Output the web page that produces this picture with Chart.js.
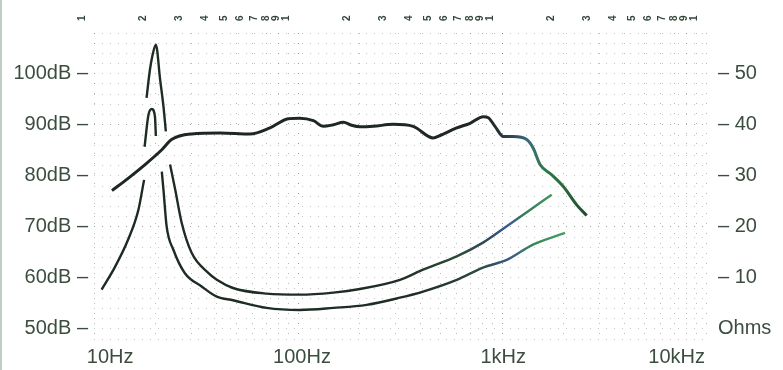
<!DOCTYPE html>
<html>
<head>
<meta charset="utf-8">
<script src="https://cdn.jsdelivr.net/npm/chart.js@4"></script>
<style>
  html, body { margin: 0; padding: 0; background: #ffffff; }
  #wrap { position: relative; width: 783px; height: 370px; }
  #edge { position: absolute; left: 0; top: 0; width: 2px; height: 370px; background: #c3ccc3; }
</style>
</head>
<body>
<div id="wrap">
  <canvas id="c" width="783" height="370"></canvas>
  <div id="edge"></div>
</div>
<script>
// ---- Data ----
// Sound pressure level (dB) vs frequency (Hz)
const respFreq = [12.25, 14.7, 17.8, 21.5, 24.0, 30.1, 41.5, 58.2, 72.9, 89.6, 102, 119, 133, 149, 167, 183, 201, 234, 293, 367, 460, 497, 600, 697, 810, 857, 924, 1015, 1136, 1322, 1423, 1536, 1752, 1998, 2323, 2602];
const respDb   = [77.1, 79.5, 82.2, 85.1, 87.1, 88.2, 88.4, 88.2, 89.4, 91.2, 91.3, 90.8, 89.7, 90.0, 90.5, 89.9, 89.6, 89.7, 90.1, 89.7, 87.4, 87.9, 89.4, 90.3, 91.6, 91.4, 89.7, 87.7, 87.7, 87.1, 85.4, 82.2, 80.2, 77.9, 74.3, 72.2];

// Impedance curve with the tall resonance peak (Ohms)
const impHiFreq = [18.1, 18.8, 19.3, 20.1, 21.1, 21.9, 22.5, 23.0, 23.6, 25.0, 26.9, 30.1, 36.2, 40.0, 48.0, 70.2, 102, 149, 201, 316, 410, 600, 807, 1055, 1371, 1752];
const impHiOhm  = [45.3, 50.8, 53.4, 55.7, 48.8, 43.6, 38.7, null, 32.2, 27.3, 20.8, 14.9, 11.0, 9.6, 8.0, 6.9, 6.7, 7.1, 7.8, 9.6, 11.6, 14.2, 16.9, 20.1, 23.3, 26.3];

// Impedance curve with the lower resonance peak (Ohms)
const impLoFreq = [10.9, 12.7, 14.7, 16.5, 17.6, 17.65, 17.7, 18.5, 19.2, 19.9, 20.1, 20.8, 21.5, 21.9, 22.7, 24.5, 27.9, 33.7, 40.0, 48.0, 70.2, 102, 149, 217, 316, 410, 600, 807, 1055, 1419, 2036];
const impLoOhm  = [7.7, 12.2, 17.5, 23.3, 29.2, null, 35.7, 42.0, 43.1, 41.6, 37.8, null, 30.8, 27.3, 20.1, 15.5, 10.9, 8.3, 6.3, 5.6, 4.1, 3.7, 4.1, 4.7, 6.1, 7.3, 9.6, 12.0, 13.5, 16.5, 18.8];

// Axis ticks / labels
const topTickFreq = [10,20,30,40,50,60,70,80,90,100,200,300,400,500,600,700,800,900,1000,2000,3000,4000,5000,6000,7000,8000,9000,10000];
const xLabelText = ['10Hz', '100Hz', '1kHz', '10kHz'];
const xLabelAt   = [12, 104.6, 1014, 7185];
const dbTickVals = [50, 60, 70, 80, 90, 100];
const dbTickText = ['50dB –', '60dB –', '70dB –', '80dB –', '90dB –', '100dB –'];
const ohmTickVals = [0, 10, 20, 30, 40, 50];
const ohmTickText = ['Ohms', '– 10', '– 20', '– 30', '– 40', '– 50'];

// ---- helpers ----
const toXY = (fs, vs) => fs.map((f, i) => ({ x: f, y: vs[i] }));
const TXT = '#3b4d3f';
const FONT = '"Liberation Sans", Arial, Helvetica, sans-serif';

function gradient(stops) {
  return (c) => {
    const chart = c.chart;
    if (!chart.chartArea) return stops[0][1];
    const g = chart.ctx.createLinearGradient(0, 0, chart.width, 0);
    stops.forEach(([px, col]) => g.addColorStop(Math.min(1, Math.max(0, px / chart.width)), col));
    return g;
  };
}

const dbGrid = [];
for (let v = 48; v <= 108; v += 2) dbGrid.push(v);

new Chart(document.getElementById('c'), {
  type: 'line',
  data: {
    datasets: [
      {
        label: 'SPL',
        data: toXY(respFreq, respDb),
        xAxisID: 'x', yAxisID: 'y',
        borderWidth: 3,
        borderColor: gradient([[0, '#1e2621'], [490, '#202823'], [510, '#2b4450'], [528, '#3a6a7e'], [545, '#2f7a47'], [562, '#2c6a3d'], [590, '#23452f']]),
        pointRadius: 0,
        cubicInterpolationMode: 'monotone',
        spanGaps: false
      },
      {
        label: 'Impedance (high)',
        data: toXY(impHiFreq, impHiOhm),
        xAxisID: 'x', yAxisID: 'y2',
        borderWidth: 2.4,
        borderColor: gradient([[0, '#1d2a21'], [400, '#1f2e24'], [455, '#2d4a37'], [490, '#2f4a5e'], [507, '#3a5a95'], [525, '#3a7a5a'], [552, '#3f9a5a']]),
        pointRadius: 0,
        cubicInterpolationMode: 'monotone',
        spanGaps: false
      },
      {
        label: 'Impedance (low)',
        data: toXY(impLoFreq, impLoOhm),
        xAxisID: 'x', yAxisID: 'y2',
        borderWidth: 2.4,
        borderColor: gradient([[0, '#1d2a21'], [420, '#1f2e24'], [480, '#2f4a40'], [510, '#3a5a8a'], [535, '#3a8a5a'], [566, '#45a060']]),
        pointRadius: 0,
        cubicInterpolationMode: 'monotone',
        spanGaps: false
      }
    ]
  },
  options: {
    responsive: false,
    animation: false,
    devicePixelRatio: 1,
    layout: { padding: 0 },
    plugins: { legend: { display: false }, tooltip: { enabled: false } },
    scales: {
      x: {
        type: 'logarithmic',
        position: 'top',
        min: 10, max: 10000,
        afterBuildTicks: (s) => { s.ticks = topTickFreq.map(v => ({ value: v })); },
        afterFit: (s) => { s.height = 33; s.paddingLeft = 0; s.paddingRight = 0; },
        ticks: {
          autoSkip: false,
          minRotation: 90, maxRotation: 90,
          padding: 12,
          color: '#34463a',
          font: { family: FONT, size: 10, weight: 'bold' },
          callback: (v) => String(v).charAt(0)
        },
        grid: {
          drawTicks: false,
          color: (c) => ([100, 1000].includes(c.tick && c.tick.value) ? 'rgba(60,75,60,0.55)' : 'rgba(70,85,70,0.4)'),
          lineWidth: 1
        },
        border: { display: false, dash: [1, 9] }
      },
      xl: {
        type: 'logarithmic',
        position: 'bottom',
        min: 10, max: 10000,
        afterBuildTicks: (s) => { s.ticks = xLabelAt.map(v => ({ value: v })); },
        afterFit: (s) => { s.height = 31; s.paddingLeft = 0; s.paddingRight = 0; },
        ticks: {
          autoSkip: false,
          maxRotation: 0, minRotation: 0,
          padding: 6,
          color: TXT,
          font: { family: FONT, size: 20 },
          callback: (v, i) => xLabelText[i]
        },
        grid: { display: false, drawTicks: false },
        border: { display: false }
      },
      y: {
        type: 'linear',
        position: 'left',
        min: 48, max: 108,
        afterBuildTicks: (s) => { s.ticks = dbGrid.map(v => ({ value: v })); },
        afterFit: (s) => { s.width = 94; },
        ticks: {
          autoSkip: false,
          padding: 6,
          color: TXT,
          font: { family: FONT, size: 20 },
          callback: (v) => { const k = dbTickVals.indexOf(v); return k >= 0 ? dbTickText[k] : ''; }
        },
        grid: {
          drawTicks: false,
          color: (c) => (c.tick && (c.tick.value === 90 || c.tick.value === 70) ? 'rgba(60,75,60,0.5)' : 'rgba(70,85,70,0.32)'),
          lineWidth: 1
        },
        border: { display: false, dash: [1, 7] }
      },
      y2: {
        type: 'linear',
        position: 'right',
        min: -2, max: 58,
        afterBuildTicks: (s) => { s.ticks = ohmTickVals.map(v => ({ value: v })); },
        afterFit: (s) => { s.width = 77; },
        ticks: {
          autoSkip: false,
          padding: 12,
          color: TXT,
          font: { family: FONT, size: 20 },
          callback: (v) => { const k = ohmTickVals.indexOf(v); return k >= 0 ? ohmTickText[k] : ''; }
        },
        grid: { display: false, drawTicks: false },
        border: { display: false }
      }
    }
  }
});
</script>
</body>
</html>
